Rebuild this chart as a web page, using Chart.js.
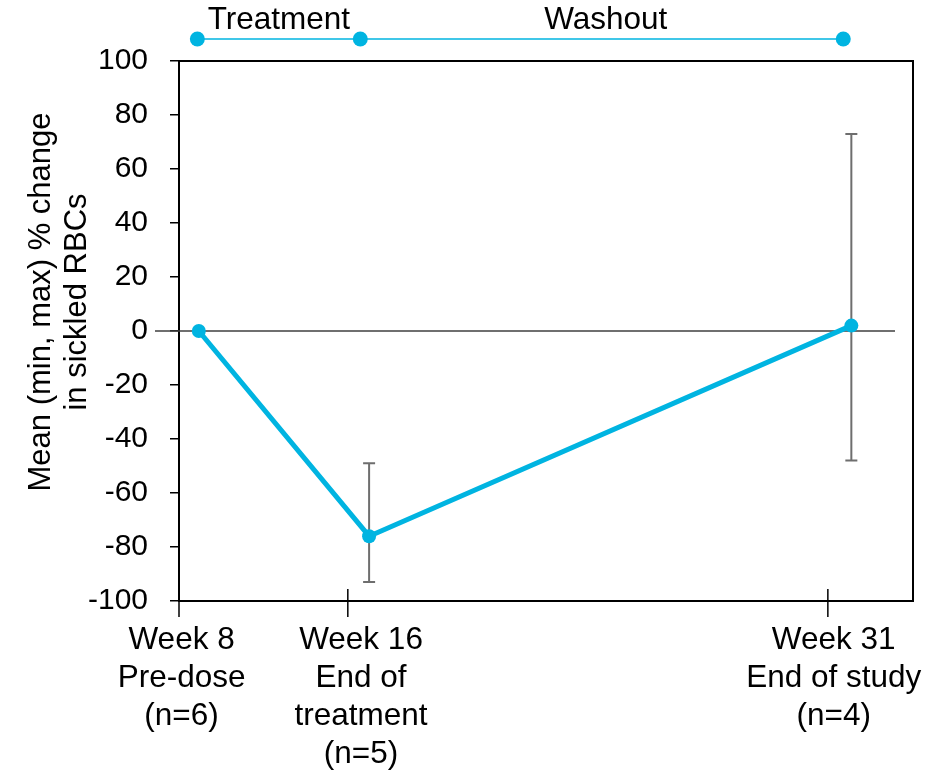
<!DOCTYPE html>
<html>
<head>
<meta charset="utf-8">
<script src="https://cdn.jsdelivr.net/npm/chart.js@4"></script>
<style>
  html, body { margin: 0; padding: 0; background: #ffffff; }
  #wrap { width: 946px; height: 770px; }
</style>
</head>
<body>
<div id="wrap"><canvas id="c" width="946" height="770"></canvas></div>
<script>
// Study visits and the mean (min, max) % change in sickled RBCs
const timepoints = [
  ['Week 8', 'Pre-dose', '(n=6)'],
  ['Week 16', 'End of', 'treatment', '(n=5)'],
  ['Week 31', 'End of study', '(n=4)']
];
const meanChange = [0, -76, 2];
const minChange = [null, -93, -48];
const maxChange = [null, -49, 73];
const phaseNames = ['Treatment', 'Washout'];
const yTitle = ['Mean (min, max) % change', 'in sickled RBCs'];

// Where things sit along the horizontal axis (axis runs 0–100)
const tickAt = [0, 23.0, 88.4];
const labelAt = [0.35, 24.8, 89.2];
const markAt = [2.7, 25.9, 91.6];
const phaseAt = [2.5, 24.7, 90.5];

const FONT = "'Liberation Sans', Arial, Helvetica, sans-serif";
const CYAN = '#00b4e1';

// Error bars (min/max), zero reference line, plot frame, tick marks,
// axis title and the study-phase strip
const extras = {
  id: 'extras',
  beforeDatasetsDraw(chart) {
    const { ctx, chartArea: a, scales: { x, y } } = chart;
    ctx.save();
    // zero line
    ctx.strokeStyle = '#3f3f3f';
    ctx.lineWidth = 1.5;
    ctx.beginPath();
    ctx.moveTo(a.left - 24, y.getPixelForValue(0));
    ctx.lineTo(a.right - 18, y.getPixelForValue(0));
    ctx.stroke();
    // min/max whiskers
    ctx.strokeStyle = '#6e6e6e';
    ctx.lineWidth = 2;
    markAt.forEach((m, i) => {
      if (minChange[i] == null) return;
      const px = x.getPixelForValue(m);
      const y1 = y.getPixelForValue(minChange[i]);
      const y2 = y.getPixelForValue(maxChange[i]);
      ctx.beginPath();
      ctx.moveTo(px, y1); ctx.lineTo(px, y2);
      ctx.moveTo(px - 6, y1); ctx.lineTo(px + 6, y1);
      ctx.moveTo(px - 6, y2); ctx.lineTo(px + 6, y2);
      ctx.stroke();
    });
    ctx.restore();
  },
  afterDraw(chart) {
    const { ctx, chartArea: a, scales: { x } } = chart;
    ctx.save();
    // frame: top and right edges
    ctx.strokeStyle = '#000000';
    ctx.lineWidth = 2;
    ctx.beginPath();
    ctx.moveTo(a.left, a.top);
    ctx.lineTo(a.right, a.top);
    ctx.lineTo(a.right, a.bottom);
    ctx.stroke();
    // x tick marks crossing the axis line
    ctx.lineWidth = 1.5;
    tickAt.forEach(t => {
      const px = x.getPixelForValue(t);
      const top = px <= a.left + 2 ? a.bottom : a.bottom - 12;
      ctx.beginPath();
      ctx.moveTo(px, top);
      ctx.lineTo(px, a.bottom + 16);
      ctx.stroke();
    });
    // y-axis title
    ctx.save();
    ctx.fillStyle = '#000000';
    ctx.font = '31px ' + FONT;
    ctx.textAlign = 'center';
    ctx.textBaseline = 'middle';
    ctx.translate(0, 302);
    ctx.rotate(-Math.PI / 2);
    yTitle.forEach((t, i) => ctx.fillText(t, 0, 41.5 + i * 36));
    ctx.restore();
    // study-phase strip
    const py = a.top - 22;
    const pts = phaseAt.map(p => x.getPixelForValue(p));
    ctx.strokeStyle = CYAN;
    ctx.lineWidth = 1.5;
    ctx.beginPath();
    ctx.moveTo(pts[0], py);
    ctx.lineTo(pts[pts.length - 1], py);
    ctx.stroke();
    ctx.fillStyle = CYAN;
    pts.forEach(px => {
      ctx.beginPath();
      ctx.arc(px, py, 7.5, 0, Math.PI * 2);
      ctx.fill();
    });
    ctx.fillStyle = '#000000';
    ctx.font = '31.5px ' + FONT;
    ctx.textAlign = 'center';
    ctx.textBaseline = 'alphabetic';
    phaseNames.forEach((n, i) => {
      ctx.fillText(n, (pts[i] + pts[i + 1]) / 2 + (i ? 4 : 0), py - 10);
    });
    ctx.restore();
  }
};

new Chart(document.getElementById('c'), {
  type: 'line',
  data: {
    datasets: [{
      data: meanChange.map((v, i) => ({ x: markAt[i], y: v })),
      borderColor: CYAN,
      backgroundColor: CYAN,
      borderWidth: 5,
      pointRadius: 7,
      pointBorderWidth: 0,
      pointBackgroundColor: CYAN,
      tension: 0,
      fill: false
    }]
  },
  options: {
    responsive: false,
    animation: false,
    devicePixelRatio: 1,
    layout: { padding: { top: 61, right: 33, left: 0, bottom: 0 } },
    plugins: { legend: { display: false }, tooltip: { enabled: false } },
    scales: {
      x: {
        type: 'linear',
        min: 0,
        max: 100,
        afterFit(s) { s.height = 169; },
        afterBuildTicks(s) { s.ticks = labelAt.map(v => ({ value: v })); },
        ticks: {
          autoSkip: false,
          maxRotation: 0,
          padding: 20,
          color: '#000000',
          font: { family: FONT, size: 31.5, lineHeight: 38 / 31.5 },
          callback: (v, i) => timepoints[i]
        },
        grid: { drawOnChartArea: false, drawTicks: false },
        border: { display: true, color: '#000000', width: 2 }
      },
      y: {
        min: -100,
        max: 100,
        afterFit(s) { s.width = 179; },
        ticks: {
          stepSize: 20,
          padding: 22,
          color: '#000000',
          font: { family: FONT, size: 30 }
        },
        grid: { drawOnChartArea: false, drawTicks: true, tickLength: 9, color: '#000000', lineWidth: 1.5 },
        border: { display: true, color: '#000000', width: 2 }
      }
    }
  },
  plugins: [extras]
});
</script>
</body>
</html>
